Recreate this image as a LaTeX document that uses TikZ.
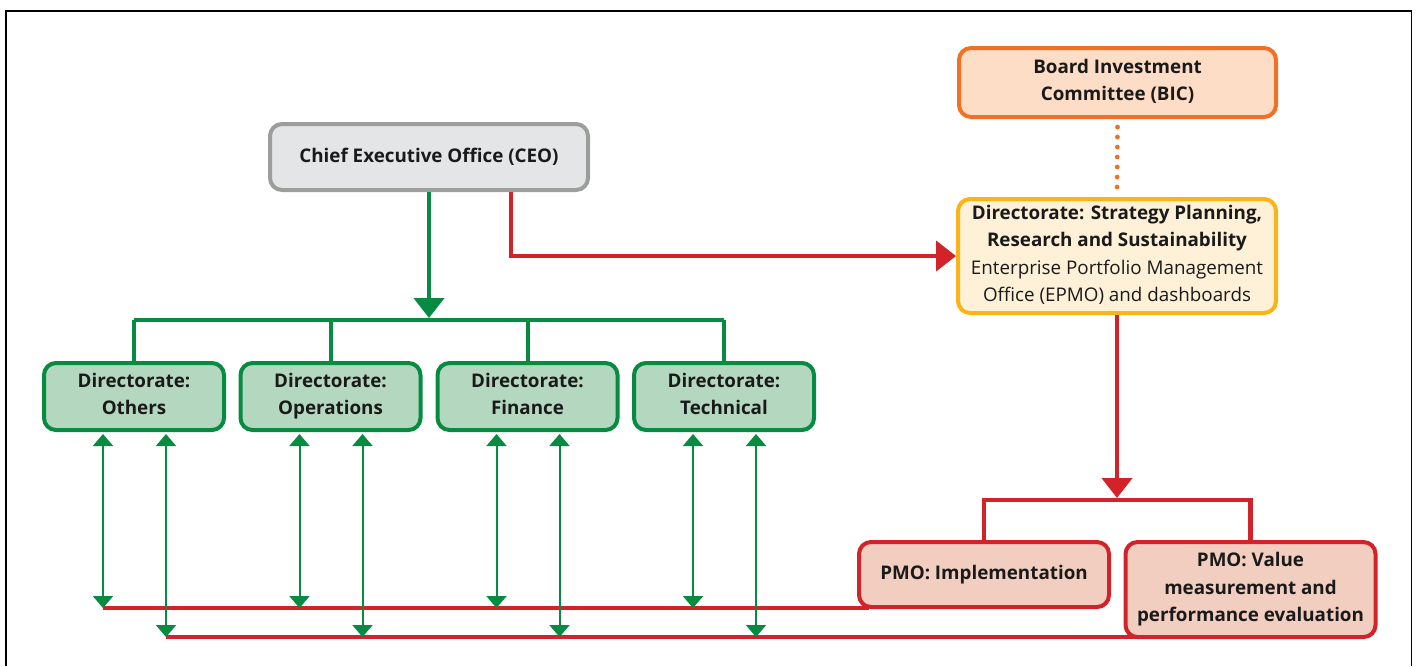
\documentclass[tikz,border=0pt]{standalone}
\usepackage{fontspec}
\setmainfont{Open Sans}
\usepackage{tikz}
\usetikzlibrary{positioning,arrows.meta,calc}
\usepackage{xcolor}

\definecolor{ceofill}{HTML}{E4E5E7}
\definecolor{ceodraw}{HTML}{9D9D9C}
\definecolor{bicfill}{HTML}{FDDDC5}
\definecolor{bicdraw}{HTML}{F07125}
\definecolor{stratfill}{HTML}{FEF1D8}
\definecolor{stratdraw}{HTML}{FBB417}
\definecolor{dirfill}{HTML}{B4D8BF}
\definecolor{dirgreen}{HTML}{068B41}
\definecolor{pmofill}{HTML}{F2CEC0}
\definecolor{pmored}{HTML}{D2232A}
\definecolor{ink}{HTML}{1A1A1A}

% keeps every line of a box on the same baseline grid
\newcommand\boxstrut{\rule[-2.6pt]{0pt}{10.4pt}}

\begin{document}
\begin{tikzpicture}[
  x=0.5pt, y=-0.5pt,
  box/.style={draw, rounded corners=6pt, line width=2pt, align=center, text=ink,
    font=\fontsize{9.4}{13.6}\selectfont\bfseries, inner sep=0pt,
    execute at begin node=\boxstrut, execute at end node=\boxstrut},
  ceobox/.style={box, draw=ceodraw, fill=ceofill, minimum width=159pt, minimum height=33pt},
  bicbox/.style={box, draw=bicdraw, fill=bicfill, minimum width=158.5pt, minimum height=34.5pt},
  stratbox/.style={box, draw=stratdraw, fill=stratfill, minimum width=159pt, minimum height=57pt},
  dirbox/.style={box, draw=dirgreen, fill=dirfill, minimum width=90pt, minimum height=33.5pt},
  pmobox/.style={box, draw=pmored, fill=pmofill, minimum width=125pt},
  gline/.style={draw=dirgreen, line width=2pt},
  rline/.style={draw=pmored, line width=2.2pt},
  bigarr/.style={-{Triangle[width=15pt,length=10pt]}},
  link/.style={draw=dirgreen, line width=1pt, {Triangle[width=10pt,length=6pt]}-{Triangle[width=10pt,length=6pt]}}
]
  % page frame, open at the bottom
  \useasboundingbox (0,0) rectangle (1416,666);
  \draw[line width=0.8pt] (6,666) -- (6,11) -- (1411.5,11) -- (1411.5,666);

  % boxes
  \node[ceobox] (ceo) at (429,157) {Chief Executive Office (CEO)};
  \node[bicbox] (bic) at (1117.5,82.5) {Board Investment\\Committee (BIC)};
  \node[stratbox] (strat) at (1117,256) {Directorate: Strategy Planning,\\Research and Sustainability\\
    {\mdseries Enterprise Portfolio Management}\\{\mdseries Office (EPMO) and dashboards}};

  \node[dirbox] (dothers) at (134,396.5) {Directorate:\\Others};
  \node[dirbox] (dops) at (330.5,396.5) {Directorate:\\Operations};
  \node[dirbox] (dfin) at (527.5,396.5) {Directorate:\\Finance};
  \node[dirbox] (dtech) at (724,396.5) {Directorate:\\Technical};

  \node[pmobox, minimum height=32.5pt] (pmoimp) at (984,574.5) {PMO: Implementation};
  \node[pmobox, minimum height=47.5pt] (pmoval) at (1250.5,589.5) {PMO: Value\\measurement and\\performance evaluation};

  \coordinate (gbus) at (429,320);
  \coordinate (rbus) at (1117,500);

  % CEO down to the directorates
  \draw[gline, bigarr] (ceo.south) -- ([yshift=1pt]gbus);
  \draw[gline] (dothers.north |- gbus) -- (dtech.north |- gbus);
  \foreach \d in {dothers,dops,dfin,dtech}
    \draw[gline] (\d.north) -- (\d.north |- gbus);

  % CEO across to strategy planning
  \draw[rline, bigarr] ([xshift=41pt]ceo.south) |- (strat.west);
  \draw[draw=bicdraw, line width=2.4pt, line cap=round, dash pattern=on 0pt off 5pt]
    ([yshift=-4pt]bic.south) -- ([yshift=3pt]strat.north);

  % strategy planning down to the PMOs
  \draw[rline, bigarr] (strat.south) -- ([yshift=1pt]rbus);
  \draw[rline] (pmoimp.north) -- (pmoimp.north |- rbus) -- (pmoval.north |- rbus) -- (pmoval.north);

  % PMO feedback lines
  \coordinate (r1) at (103,608);
  \coordinate (r2) at (166,637);
  \draw[rline] (r1) -- ([xshift=6pt]pmoimp.south west |- r1);
  \draw[rline] (r2) -- ([xshift=6pt]pmoval.south west |- r2);

  \foreach \d in {dothers,dops,dfin,dtech} {
    \draw[link] ([xshift=-15.5pt,yshift=-1pt]\d.south) -- ([xshift=-15.5pt]\d.south |- r1);
    \draw[link] ([xshift=16pt,yshift=-1pt]\d.south) -- ([xshift=16pt]\d.south |- r2);
  }
\end{tikzpicture}
\end{document}
